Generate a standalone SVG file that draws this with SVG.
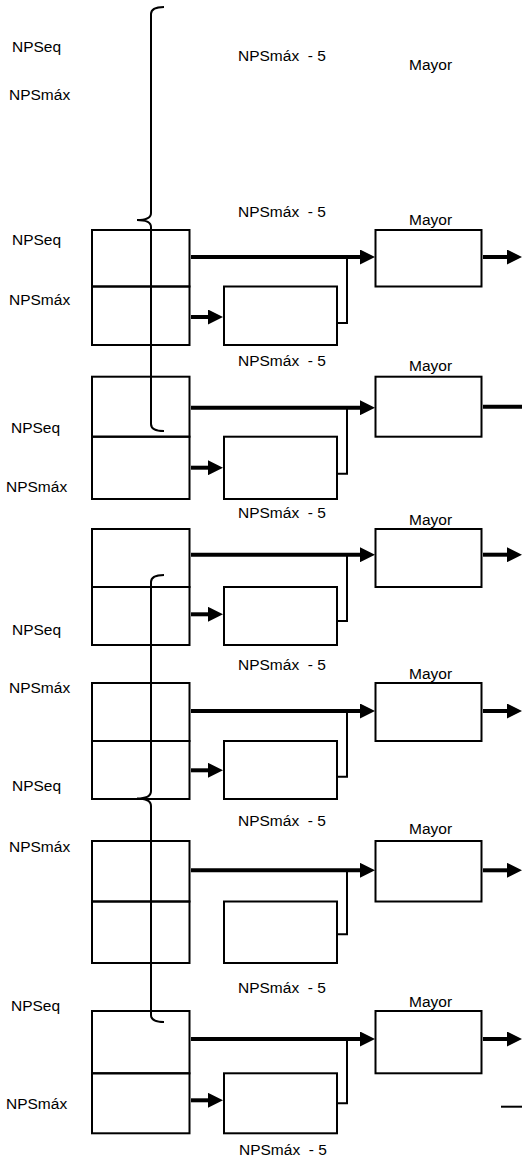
<svg xmlns="http://www.w3.org/2000/svg" width="522" height="1159" viewBox="0 0 522 1159">
<defs>
<style>
.box{fill:none;stroke:#000;stroke-width:2}
.thick{fill:none;stroke:#000;stroke-width:4;marker-end:url(#ah)}
.plain{fill:none;stroke:#000;stroke-width:4}
.thin{fill:none;stroke:#000;stroke-width:2}
text{font-family:"Liberation Sans",Arial,sans-serif;font-size:15.5px;fill:#000}
.m5{white-space:pre}
</style>
<marker id="ah" markerUnits="userSpaceOnUse" markerWidth="15" markerHeight="15" viewBox="0 -7.5 15 15" refX="0" refY="0" orient="auto">
<path d="M0,-7.5 L15,0 L0,7.5 z" fill="#000"/>
</marker>
</defs>
<rect width="522" height="1159" fill="#fff"/>

<g id="labels-top">
<text x="12" y="51.5">NPSeq</text>
<text x="9" y="100">NPSmáx</text>
<text class="m5" x="238" y="60.5" xml:space="preserve">NPSmáx  - 5</text>
<text x="409" y="69.5">Mayor</text>
<text class="m5" x="238" y="216.5" xml:space="preserve">NPSmáx  - 5</text>
<text x="409" y="224.5">Mayor</text>
</g>

<g id="block1">
<rect class="box" x="92" y="230" width="97.5" height="56.5"/>
<rect class="box" x="92" y="286.5" width="97.5" height="58.5"/>
<rect class="box" x="375.5" y="230" width="106" height="56.5"/>
<rect class="box" x="224" y="286.5" width="113" height="58.5"/>
<text x="12" y="245">NPSeq</text>
<text x="9" y="305">NPSmáx</text>
<text class="m5" x="238" y="366" xml:space="preserve">NPSmáx  - 5</text>
</g>

<g id="block2">
<rect class="box" x="92" y="376.7" width="97.5" height="60"/>
<rect class="box" x="92" y="436.7" width="97.5" height="62.3"/>
<rect class="box" x="375.5" y="376.7" width="106" height="60"/>
<rect class="box" x="224" y="436.7" width="113" height="62.3"/>
<text x="409" y="370.5">Mayor</text>
<text x="11" y="433.3">NPSeq</text>
<text x="6" y="491.7">NPSmáx</text>
<text class="m5" x="238" y="518.3" xml:space="preserve">NPSmáx  - 5</text>
</g>

<g id="block3">
<rect class="box" x="92" y="529" width="97.5" height="58"/>
<rect class="box" x="92" y="587" width="97.5" height="58"/>
<rect class="box" x="375.5" y="529" width="106" height="58"/>
<rect class="box" x="224" y="587" width="113" height="58"/>
<text x="409" y="525">Mayor</text>
<text x="12" y="635">NPSeq</text>
<text class="m5" x="238" y="670" xml:space="preserve">NPSmáx  - 5</text>
</g>

<g id="block4">
<rect class="box" x="92" y="683" width="97.5" height="58"/>
<rect class="box" x="92" y="741" width="97.5" height="58"/>
<rect class="box" x="375.5" y="683" width="106" height="58"/>
<rect class="box" x="224" y="741" width="113" height="58"/>
<text x="409" y="679">Mayor</text>
<text x="9" y="693.3">NPSmáx</text>
<text x="12" y="790.7">NPSeq</text>
<text class="m5" x="238" y="826" xml:space="preserve">NPSmáx  - 5</text>
</g>

<g id="block5">
<rect class="box" x="92" y="841" width="97.5" height="60.5"/>
<rect class="box" x="92" y="901.5" width="97.5" height="61.5"/>
<rect class="box" x="375.5" y="841" width="106" height="60.5"/>
<rect class="box" x="224" y="901.5" width="113" height="61.5"/>
<text x="409" y="834">Mayor</text>
<text x="9" y="852.3">NPSmáx</text>
<text class="m5" x="238" y="993.3" xml:space="preserve">NPSmáx  - 5</text>
</g>

<g id="block6">
<rect class="box" x="92" y="1011" width="97.5" height="62.3"/>
<rect class="box" x="92" y="1073.3" width="97.5" height="60"/>
<rect class="box" x="375.5" y="1011" width="106" height="62.3"/>
<rect class="box" x="224" y="1073.3" width="113" height="60"/>
<text x="409" y="1006.7">Mayor</text>
<text x="11" y="1010.7">NPSeq</text>
<text x="6" y="1109">NPSmáx</text>
<text class="m5" x="239" y="1155" xml:space="preserve">NPSmáx  - 5</text>
</g>

<g id="connectors">
<line class="thick" x1="191" y1="257" x2="360" y2="257"/>
<line class="thick" x1="191" y1="317" x2="208" y2="317"/>
<line class="thick" x1="483" y1="257" x2="507" y2="257"/>
<polyline class="thin" points="337,323 347,323 347,257"/>
<line class="thick" x1="191" y1="407.7" x2="360" y2="407.7"/>
<line class="thick" x1="191" y1="467.7" x2="208" y2="467.7"/>
<line class="plain" x1="483" y1="406.7" x2="522" y2="406.7"/>
<polyline class="thin" points="337,473.7 347,473.7 347,407.7"/>
<line class="thick" x1="191" y1="554.7" x2="360" y2="554.7"/>
<line class="thick" x1="191" y1="614.3" x2="208" y2="614.3"/>
<line class="thick" x1="483" y1="554.7" x2="507" y2="554.7"/>
<polyline class="thin" points="337,621 347,621 347,554.7"/>
<line class="thick" x1="191" y1="711" x2="360" y2="711"/>
<line class="thick" x1="191" y1="770.3" x2="208" y2="770.3"/>
<line class="thick" x1="483" y1="711" x2="507" y2="711"/>
<polyline class="thin" points="337,776.7 347,776.7 347,711"/>
<line class="thick" x1="191" y1="870.3" x2="360" y2="870.3"/>
<line class="thick" x1="483" y1="870.3" x2="507" y2="870.3"/>
<polyline class="thin" points="337,934.3 347,934.3 347,870.3"/>
<line class="thick" x1="191" y1="1039" x2="360" y2="1039"/>
<line class="thick" x1="191" y1="1100.3" x2="208" y2="1100.3"/>
<line class="thick" x1="483" y1="1039" x2="507" y2="1039"/>
<polyline class="thin" points="337,1103.3 347,1103.3 347,1039"/>
<line class="thin" x1="501" y1="1106.7" x2="522" y2="1106.7"/>
<path class="thin" d="M164,7 Q151,7 151,14 V213 Q151,220 137,220 Q151,220 151,227 V424 Q151,431 164,431"/>
<path class="thin" d="M164,575 Q151,575 151,582 V791 Q151,798.5 137,798.5 Q151,798.5 151,806 V1015 Q151,1022 164,1022"/>
</g>
</svg>
